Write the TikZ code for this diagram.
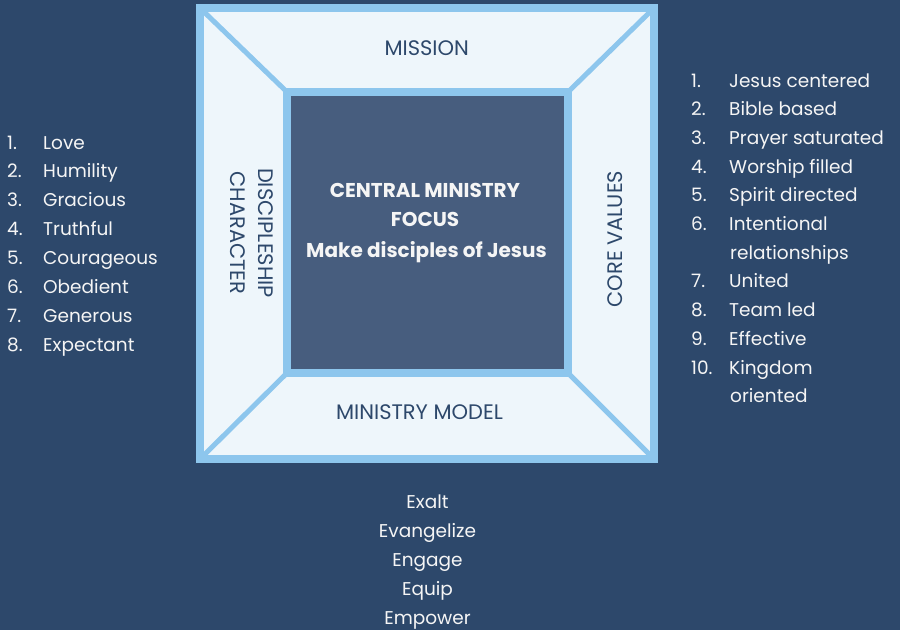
\documentclass[tikz,border=0pt]{standalone}
\usepackage{fontspec}
\setmainfont{Poppins}
\definecolor{bgnavy}{RGB}{45,72,107}
\definecolor{centerfill}{RGB}{71,93,126}
\definecolor{lightfill}{RGB}{238,246,251}
\definecolor{frameblue}{RGB}{141,198,237}
\definecolor{txtwhite}{RGB}{245,245,245}
\tikzset{
  frame/.style={draw=frameblue, line width=8pt, outer sep=0pt, inner sep=0pt},
  diag/.style={draw=frameblue, line width=5pt},
  flabel/.style={text=bgnavy, font=\fontsize{21}{27}\selectfont, inner sep=0pt},
  ctext/.style={text=txtwhite, font=\bfseries\fontsize{20}{24}\selectfont, inner sep=0pt, anchor=base},
  litem/.style={text=txtwhite, font=\fontsize{18.5}{22}\selectfont, inner sep=0pt, anchor=base west},
  bitem/.style={text=txtwhite, font=\fontsize{18.5}{22}\selectfont, inner sep=0pt, anchor=base},
}
\begin{document}
\begin{tikzpicture}[x=1pt,y=-1pt]
\fill[bgnavy] (0,0) rectangle (900,630);
\useasboundingbox (0,0) rectangle (900,630);
% outer frame
\node[frame, fill=lightfill, minimum width=454pt, minimum height=451pt] (outer) at (427,233.5) {};
\node[inner sep=0pt, minimum size=281pt, outer sep=0pt] (innerref) at (427.5,232.5) {};
\draw[diag] (outer.north west) -- (innerref.north west);
\draw[diag] (outer.north east) -- (innerref.north east);
\draw[diag] (outer.south west) -- (innerref.south west);
\draw[diag] (outer.south east) -- (innerref.south east);
\node[frame, minimum width=454pt, minimum height=451pt] (outerborder) at (427,233.5) {};
\node[frame, fill=centerfill, minimum size=281pt] (inner) at (427.5,232.5) {};
% frame labels
\node[flabel] (mission) at (426.7,48) {MISSION};
\node[flabel] (model) at (419.5,412) {MINISTRY MODEL};
\node[flabel, rotate=90] (core) at (615,239) {CORE VALUES};
\node[flabel, rotate=-90, align=center] (disc) at (251.5,233) {DISCIPLESHIP\\[1pt]CHARACTER};
% central text
\node[ctext] (c1) at (425,197) {CENTRAL MINISTRY};
\node[ctext] (c2) at (425,226.5) {FOCUS};
\node[ctext] (c3) at (426.5,257) {Make disciples of Jesus};
% left list
\foreach \n/\t [count=\i from 0] in {1/Love,2/Humility,3/Gracious,4/Truthful,5/Courageous,6/Obedient,7/Generous,8/Expectant}{
  \node[litem] (ln\n) at (7,149+28.9*\i) {\n.};
  \node[litem] (lt\n) at (43,149+28.9*\i) {\t};
}
% right list
\foreach \n/\t/\r in {1/Jesus centered/0,2/Bible based/1,3/Prayer saturated/2,4/Worship filled/3,5/Spirit directed/4,6/Intentional/5,7/United/7,8/Team led/8,9/Effective/9,10/Kingdom/10}{
  \node[litem] (rn\n) at (691,87+28.7*\r) {\n.};
  \node[litem] (rt\n) at (729,87+28.7*\r) {\t};
}
\node[litem] (rt6b) at (730,87+28.7*6) {relationships};
\node[litem] (rt10b) at (730,87+28.7*11) {oriented};
% bottom list
\foreach \t [count=\i from 0] in {Exalt,Evangelize,Engage,Equip,Empower}{
  \node[bitem] (b\i) at (427.5,508+29*\i) {\t};
}
\end{tikzpicture}
\end{document}
